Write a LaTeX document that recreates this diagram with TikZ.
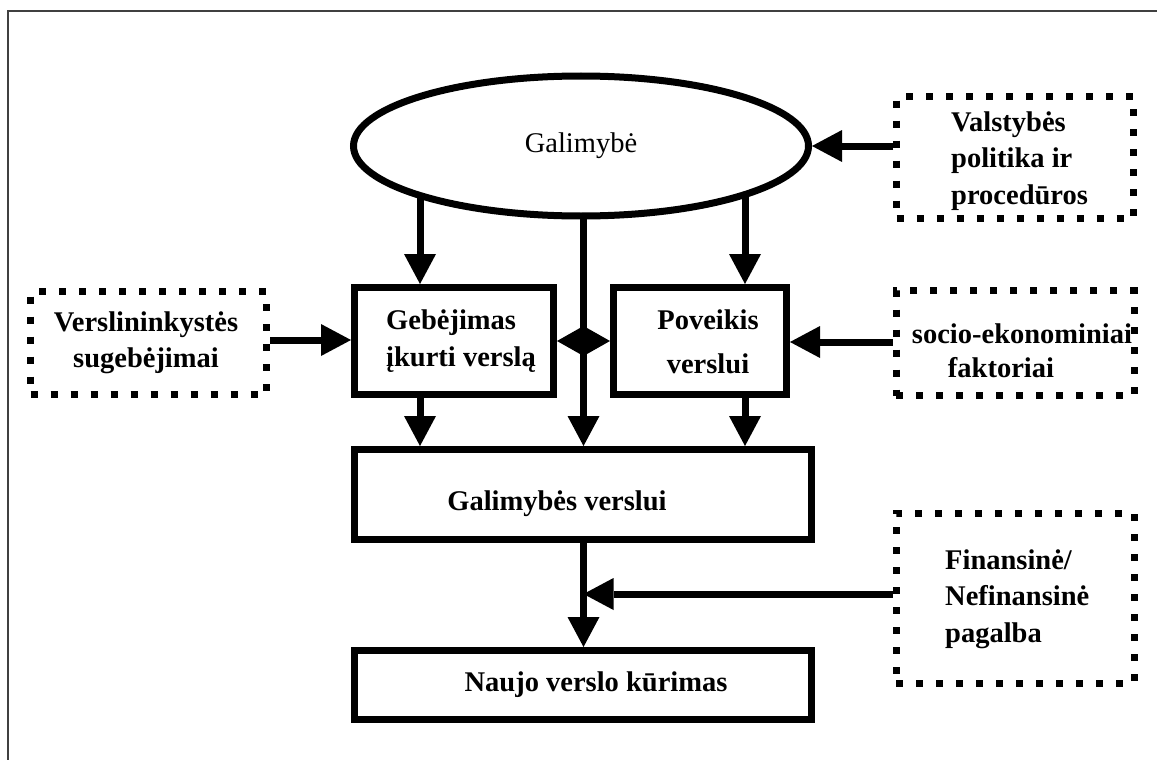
\documentclass[tikz,border=0pt]{standalone}
\usepackage{fontspec}
\setmainfont{Liberation Serif}
\usetikzlibrary{arrows.meta,shapes.geometric,calc}
\pgfdeclarelayer{background}
\pgfsetlayers{background,main}
\begin{document}
\begin{tikzpicture}[x=1pt,y=-1pt,
  solidbox/.style={draw, line width=7pt, fill=white, inner sep=0pt},
  dotbox/.style={draw, line width=7pt, dash pattern=on 7pt off 13pt, inner sep=0pt},
  txt/.style={inner sep=0pt, align=center, font=\fontsize{28.5}{36.5}\selectfont\bfseries},
  arr/.style={line width=7pt, -{Triangle[length=30pt,width=32pt,line width=0pt]}},
  frame/.style={line width=2.5pt, draw=black!75}
]
\useasboundingbox (0,0) rectangle (1157,760);
\draw[frame] (8,760) -- (8,11) -- (1157,11);

% main nodes
\node[ellipse, draw, line width=7pt, fill=white, minimum width=455pt, minimum height=140pt, inner sep=0pt,
      font=\fontsize{28.5}{36.5}\selectfont] (ell) at (581,146) {Galimybė};
\node[solidbox, minimum width=199pt, minimum height=107pt] (gk) at (454,341) {};
\node[solidbox, minimum width=173pt, minimum height=107pt] (pv) at (700,341) {};
\node[solidbox, minimum width=457pt, minimum height=90pt] (gv) at (583,494.5) {};
\node[solidbox, minimum width=457pt, minimum height=69pt] (nv) at (583,685) {};

\node[dotbox, minimum width=237pt, minimum height=122pt] (vp) at (1015,157.5) {};
\node[dotbox, minimum width=236pt, minimum height=103pt] (vs) at (148.5,343) {};
\node[dotbox, minimum width=238pt, minimum height=105pt] (se) at (1015,343) {};
\node[dotbox, minimum width=238pt, minimum height=170pt] (fn) at (1015,598) {};

% texts
\node[txt, align=left, anchor=west] at (386,341) {Gebėjimas\\įkurti verslą};
\node[txt] at (708,342) {Poveikis\\[8pt]verslui};
\node[txt] at (557,504) {Galimybės verslui};
\node[txt] at (596,685) {Naujo verslo kūrimas};
\node[txt, align=left, anchor=west] at (951,161) {Valstybės\\politika ir\\procedūros};
\node[txt] at (146,343) {Verslininkystės\\sugebėjimai};
\node[txt] at (1022,334) {socio-ekonominiai};
\node[txt] at (1001,368) {faktoriai};
\node[txt, align=left, anchor=west] at (945,599) {Finansinė/\\Nefinansinė\\pagalba};

% connectors
\coordinate (cx) at ($(gk.east)!0.5!(pv.west)$);
\begin{pgfonlayer}{background}
\draw[arr] (ell.center -| 420,0) -- (gk.north -| 420,0);
\draw[arr] (ell.center -| 745,0) -- (pv.north -| 745,0);
\draw[arr] (ell.center -| cx) -- (gv.north -| cx);
\end{pgfonlayer}
\draw[line width=0.01pt, {Triangle[length=26.5pt,width=30pt,line width=0pt]}-{Triangle[length=26.5pt,width=30pt,line width=0pt]}] (gk.east) -- (pv.west);
\draw[arr] (gk.south -| 420,0) -- (gv.north -| 420,0);
\draw[arr] (pv.south -| 745,0) -- (gv.north -| 745,0);
\draw[arr] (gv.south -| cx) -- (nv.north -| cx);
\coordinate (j) at (cx |- 0,594);
\draw[arr] (j -| fn.west) -- (j);
\draw[arr] (ell.east -| vp.west) -- (ell.east);
\draw[arr] (vs.east |- 0,340) -- (gk.west |- 0,340);
\draw[arr] (se.west |- 0,342) -- (pv.east |- 0,342);
\end{tikzpicture}
\end{document}
